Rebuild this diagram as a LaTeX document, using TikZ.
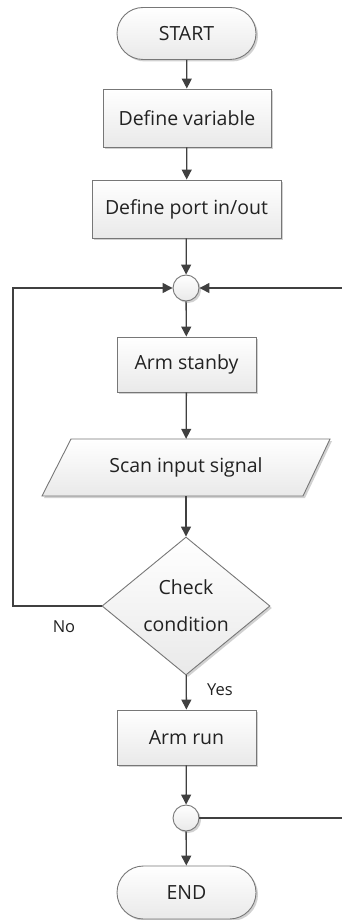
\documentclass[tikz,border=0pt]{standalone}
\usepackage{fontspec}
\setmainfont{Open Sans}
\usetikzlibrary{shapes.geometric,shapes.misc,arrows.meta,shadows}
\definecolor{edgegray}{HTML}{777777}
\definecolor{linegray}{HTML}{404040}
\definecolor{fillgray}{HTML}{E9E9E9}
\definecolor{txt}{HTML}{222222}
\begin{document}
\begin{tikzpicture}[x=1pt,y=-1pt,
  every node/.style={font=\fontsize{19.5}{23}\selectfont, text=txt},
  shape base/.style={draw=edgegray, line width=0.9pt, top color=white, bottom color=fillgray,
    drop shadow={shadow xshift=2pt, shadow yshift=-2pt, opacity=0.18, fill=black}},
  procbox/.style={shape base, rectangle, inner sep=0pt},
  termbox/.style={shape base, rounded rectangle, inner sep=0pt, minimum width=139pt, minimum height=52pt},
  junc/.style={shape base, circle, inner sep=0pt, minimum size=26pt},
  decbox/.style={shape base, diamond, inner sep=0pt, minimum width=168pt, minimum height=138pt, align=center,
    font=\fontsize{19.5}{37}\selectfont},
  arr/.style={draw=linegray, line width=1.3pt, -{Triangle[length=10pt,width=10pt]}},
  ln/.style={draw=linegray, line width=1.3pt},
  lbl/.style={font=\fontsize{16.5}{20}\selectfont}
]
\useasboundingbox (0,0) rectangle (342,920);

\node[termbox] (start) at (186.5,33.5) {START};
\node[procbox, minimum width=168pt, minimum height=58pt] (defvar) at (187,118) {Define variable};
\node[procbox, minimum width=189pt, minimum height=58pt] (defport) at (186.5,209) {Define port in/out};
\node[junc] (j1) at (186,288) {};
\node[procbox, minimum width=139pt, minimum height=55pt] (standby) at (186.5,364.5) {Arm stanby};
\path[shape base] (71,439) -- (330,439) -- (303,496) -- (42,496) -- cycle;
\node[minimum width=232pt, minimum height=57pt, inner sep=0pt] (scan) at (186,467.5) {Scan input signal};
\node[decbox] (dec) at (186,606) {Check\\condition};
\node[procbox, minimum width=139pt, minimum height=55pt] (armrun) at (186.5,737.5) {Arm run};
\node[junc] (j2) at (186,818) {};
\node[termbox, minimum height=53pt] (end) at (186.5,892.5) {END};

\coordinate (bl) at (13,606);
\coordinate (tl) at (13,288);
\coordinate (tr) at (342,288);
\coordinate (br) at (342,818);

\draw[arr] (start) -- (defvar);
\draw[arr] (defvar) -- (defport);
\draw[arr] (defport) -- (j1);
\draw[arr] (j1) -- (standby);
\draw[arr] (standby) -- (scan);
\draw[arr] (scan) -- (dec);
\draw[arr] (dec) -- (armrun);
\draw[arr] (armrun) -- (j2);
\draw[arr] (j2) -- (end);
\draw[arr] (dec.west) -- (bl) -- (tl) -- (j1.west);
\draw[arr] (tr) -- (j1.east);
\draw[ln] (j2.east) -- (br);

\node[lbl] (no) at (64,627) {No};
\node[lbl] (yes) at (220,690) {Yes};
\end{tikzpicture}
\end{document}
